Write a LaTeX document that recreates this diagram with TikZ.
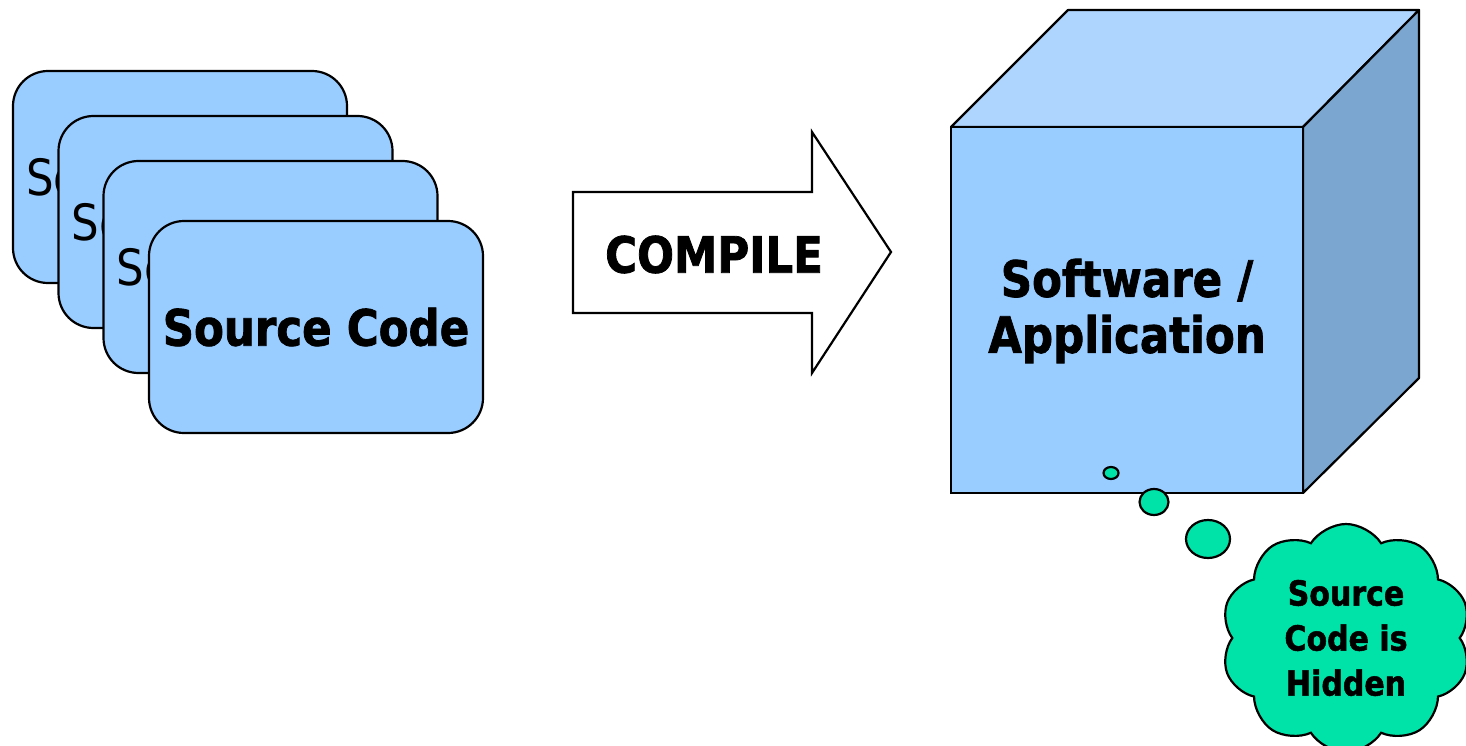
\documentclass[tikz,border=0pt]{standalone}
\usepackage{fontspec}
\usetikzlibrary{shapes.geometric,shapes.symbols}
\newfontfamily\tahoma[FakeStretch=0.87]{DejaVu Sans}
\newfontfamily\tahomab[FakeStretch=0.87,FakeBold=1.5]{DejaVu Sans Bold}
\definecolor{cardblue}{HTML}{99CCFF}
\definecolor{topblue}{HTML}{ADD5FE}
\definecolor{sideblue}{HTML}{7BA6CF}
\definecolor{cloudgreen}{HTML}{00E3A8}
\tikzset{
	card/.style={draw,line width=2.2,fill=cardblue,rounded corners=35,minimum width=334,minimum height=212,inner sep=0},
	backtext/.style={anchor=west,inner sep=0,font=\tahoma\fontsize{50}{56}\selectfont},
	bigtext/.style={inner sep=0,align=center,font=\tahomab\fontsize{50}{56}\selectfont},
	bubble/.style={draw,ellipse,line width=2.2,fill=cloudgreen,inner sep=0}
}
\begin{document}
\begin{tikzpicture}[x=1pt,y=-1pt]
	\useasboundingbox (0,0) rectangle (1466,746);
	% stack of source files
	\node[card] (card1) at (180,177) {};
	\node[backtext] (text1) at ([xshift=14]card1.west) {Source Code};
	\node[card] (card2) at (225.5,222) {};
	\node[backtext] (text2) at ([xshift=14]card2.west) {Source Code};
	\node[card] (card3) at (270.5,267) {};
	\node[backtext] (text3) at ([xshift=14]card3.west) {Source Code};
	\node[card,font=\tahomab\fontsize{50}{56}\selectfont] (card4) at (316,327) {Source Code};
	% compile arrow
	\draw[line width=2.2,fill=white] (573,192) -- (812,192) -- (812,132) -- (891,252)
		-- (812,373) -- (812,313) -- (573,313) -- cycle;
	\node[bigtext] (compile) at (714,254.5) {COMPILE};
	% the application cube
	\draw[line width=2.2,line join=round,fill=topblue] (951,127) -- (1068,10) -- (1419,10) -- (1303,127) -- cycle;
	\draw[line width=2.2,line join=round,fill=sideblue] (1303,127) -- (1419,10) -- (1419,378) -- (1303,493) -- cycle;
	\draw[line width=2.2,fill=cardblue] (951,127) rectangle (1303,493);
	\node[bigtext] (app) at (1127,311) {Software /\\Application};
	% thought bubbles
	\node[bubble,minimum width=15,minimum height=12] (b1) at (1111,473) {};
	\node[bubble,minimum width=29,minimum height=26] (b2) at (1154,502) {};
	\node[bubble,minimum width=44,minimum height=38] (b3) at (1208,539) {};
	\node[draw,cloud,cloud puffs=10,cloud puff arc=115,aspect=1.1,line width=2.2,fill=cloudgreen,
		minimum width=250,minimum height=228,inner sep=0,align=center,
		font=\tahomab\fontsize{34.5}{45}\selectfont] (hidden) at (1346,638) {Source\\Code is\\Hidden};
\end{tikzpicture}
\end{document}
